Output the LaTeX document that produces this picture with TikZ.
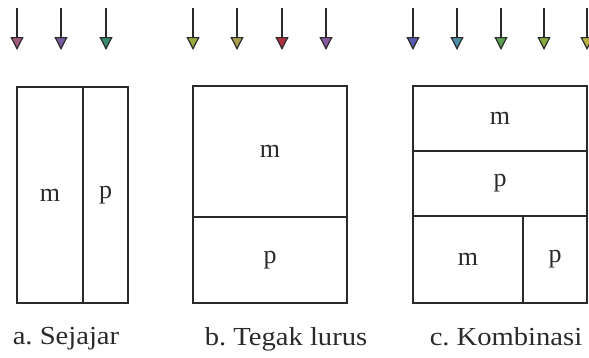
\documentclass[tikz,border=0pt]{standalone}
\usepackage{fontspec}
\setmainfont{Liberation Serif}
\usetikzlibrary{arrows.meta}
\frenchspacing
\definecolor{ca1}{HTML}{A05A80}
\definecolor{ca2}{HTML}{7A5A9E}
\definecolor{ca3}{HTML}{3A8A6E}
\definecolor{cb1}{HTML}{9AAA40}
\definecolor{cb2}{HTML}{A8A050}
\definecolor{cb3}{HTML}{B03040}
\definecolor{cb4}{HTML}{8A5AA0}
\definecolor{cc1}{HTML}{5A5AB0}
\definecolor{cc2}{HTML}{4A90A8}
\definecolor{cc3}{HTML}{5AA050}
\definecolor{cc4}{HTML}{8AAA40}
\definecolor{cc5}{HTML}{B8B040}
\definecolor{ink}{HTML}{2A2A2A}
\tikzset{
  cell/.style={draw=ink, line width=1.4pt, inner sep=0pt, text=ink, font=\fontsize{26}{26}\selectfont},
  flow/.style={draw=ink, line width=1.2pt, -{Triangle[width=13pt,length=13pt,fill=#1]}},
  captext/.style={font=\fontsize{26}{26}\selectfont, text=ink, inner sep=0pt, anchor=base}
}
\newcommand{\cellnode}[6]{% name, x1, y1, x2, y2, text
  \node[cell, minimum width={#4pt-#2pt}, minimum height={#5pt-#3pt}] (#1) at ({(#2+#4)/2*1pt},{-(#3+#5)/2*1pt}) {#6};}
\begin{document}
\begin{tikzpicture}[x=1pt,y=-1pt]
\useasboundingbox (0,0) rectangle (589,357);
% boxes
\cellnode{am}{17}{87}{83}{303}{m}
\cellnode{ap}{83}{87}{128}{303}{p}
\cellnode{bm}{193}{86}{347}{217}{m}
\cellnode{bp}{193}{217}{347}{303}{p}
\cellnode{cm1}{413}{86}{587}{151}{m}
\cellnode{cp1}{413}{151}{587}{216}{p}
\cellnode{cm2}{413}{216}{523}{303}{m}
\cellnode{cp2}{523}{216}{587}{303}{p}
% arrows
\foreach \x/\c [count=\i] in {17/ca1,61/ca2,106/ca3,193/cb1,237/cb2,282/cb3,326/cb4,413/cc1,457/cc2,501/cc3,544/cc4,587/cc5}{
  \coordinate (s\i) at (\x,8);
  \coordinate (e\i) at (\x,50);
  \draw[flow=\c] (s\i) -- (e\i);
}
% captions
\node[captext] (la) at (66,344) {\scalebox{1.1}[1]{a. Sejajar}};
\node[captext] (lb) at (286,345) {\scalebox{1.1}[1]{b. Tegak lurus}};
\node[captext] (lc) at (506,345) {\scalebox{1.1}[1]{c. Kombinasi}};
\end{tikzpicture}
\end{document}
